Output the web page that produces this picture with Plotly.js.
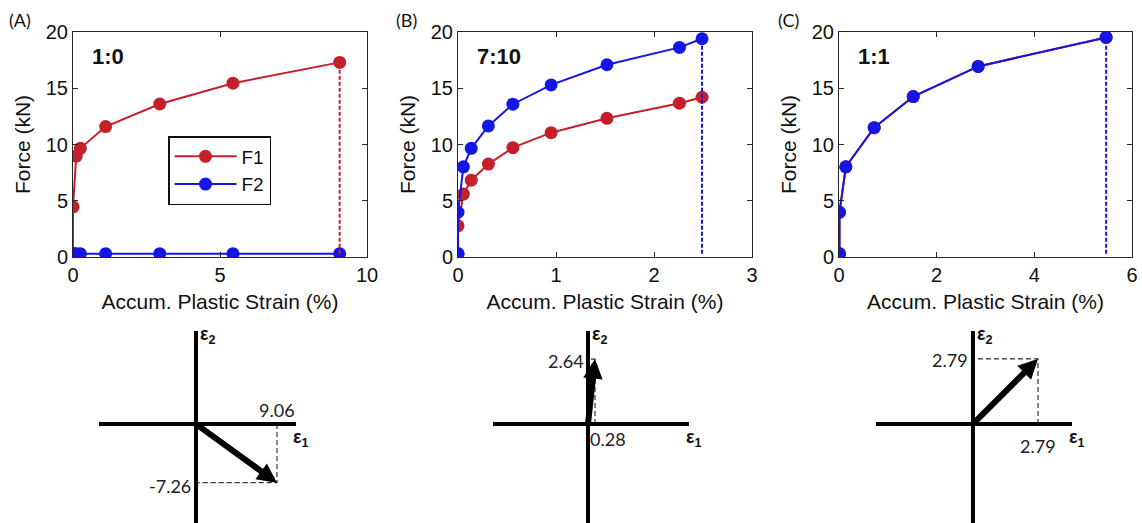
<!DOCTYPE html>
<html>
<head>
<meta charset="utf-8">
<script src="https://cdn.plot.ly/plotly-3.0.1.min.js"></script>
<style>html,body{margin:0;padding:0;background:#fff}#chart{width:1142px;height:523px}</style>
</head>
<body>
<div id="chart"></div>
<script>
// ---- Data ----
const panelLabels = ['(A)', '(B)', '(C)'];
const ratioLabels = ['1:0', '7:10', '1:1'];
const seriesNames = ['F1', 'F2'];

// Panel A (1:0)
const strainA = [0, 0, 0.11, 0.25, 1.11, 2.95, 5.44, 9.07];
const f1A = [0.3, 4.46, 8.97, 9.66, 11.59, 13.6, 15.45, 17.3];
const f2A = [0.3, 0.3, 0.3, 0.3, 0.3, 0.3, 0.3, 0.3];

// Panel B (7:10)
const strainB = [0, 0, 0.055, 0.135, 0.31, 0.56, 0.95, 1.52, 2.26, 2.49];
const f1B = [0.3, 2.76, 5.59, 6.83, 8.26, 9.72, 11.05, 12.33, 13.67, 14.2];
const f2B = [0.3, 3.98, 8.02, 9.66, 11.65, 13.58, 15.3, 17.09, 18.63, 19.4];

// Panel C (1:1)
const strainC = [0.01, 0.01, 0.14, 0.72, 1.52, 2.85, 5.47];
const f1C = [0.3, 3.98, 8.02, 11.5, 14.26, 16.94, 19.52];
const f2C = [0.3, 3.98, 8.02, 11.5, 14.26, 16.94, 19.52];

// Strain vectors (eps1, eps2) shown in the lower diagrams
const eps1 = [9.06, 0.28, 2.79];
const eps2 = [-7.26, 2.64, 2.79];

// x-axis ranges / tick steps
const xMax = [10, 3, 6];
const xStep = [5, 1, 2];

// ---- Styles ----
const RED = '#c4202b';
const BLUE = '#1616e4';
const AX = '#262626';
const FONT = 'Liberation Sans, Arial, sans-serif';
const W = 1142, H = 523;
const px = v => v / W;
const py = v => 1 - v / H;

const panels = [
  {s: strainA, f1: f1A, f2: f2A, dashColor: RED, xd: [73, 367]},
  {s: strainB, f1: f1B, f2: f2B, dashColor: BLUE, xd: [458, 752]},
  {s: strainC, f1: f1C, f2: f2C, dashColor: BLUE, xd: [839, 1132]}
];

const traces = [];
const layout = {
  width: W, height: H,
  margin: {l: 0, r: 0, t: 0, b: 0},
  paper_bgcolor: '#fff', plot_bgcolor: '#fff',
  showlegend: true,
  legend: {
    x: px(168), y: py(136), xanchor: 'left', yanchor: 'top',
    bgcolor: '#fff', bordercolor: '#111', borderwidth: 1.5,
    font: {family: FONT, size: 19, color: '#111'},
    itemwidth: 62, tracegroupgap: 0
  },
  annotations: [],
  shapes: []
};

panels.forEach((p, i) => {
  const n = i + 1;
  const xa = n === 1 ? 'x' : 'x' + n;
  const ya = n === 1 ? 'y' : 'y' + n;
  const last = p.s.length - 1;
  traces.push({
    x: p.s, y: p.f1, xaxis: xa, yaxis: ya, name: seriesNames[0],
    mode: 'lines+markers', line: {color: RED, width: 2},
    marker: {color: RED, size: 13}, showlegend: i === 0, legendgroup: 'f1'
  });
  traces.push({
    x: p.s, y: p.f2, xaxis: xa, yaxis: ya, name: seriesNames[1],
    mode: 'lines+markers', line: {color: BLUE, width: 2},
    marker: {color: BLUE, size: 13}, showlegend: i === 0, legendgroup: 'f2'
  });
  traces.push({
    x: [p.s[last], p.s[last]],
    y: [p.f1[0], Math.max(p.f1[last], p.f2[last])],
    xaxis: xa, yaxis: ya, mode: 'lines', showlegend: false,
    line: {color: p.dashColor, width: 2, dash: '4px,2px'}, hoverinfo: 'skip'
  });

  const axKey = n === 1 ? 'xaxis' : 'xaxis' + n;
  const ayKey = n === 1 ? 'yaxis' : 'yaxis' + n;
  const common = {
    ticks: 'inside', ticklen: 5, tickwidth: 1, tickcolor: AX,
    showline: true, linecolor: AX, linewidth: 1, mirror: 'ticks',
    showgrid: false, zeroline: false, fixedrange: true,
    tickfont: {family: FONT, size: 20, color: '#111'}
  };
  layout[axKey] = Object.assign({}, common, {
    domain: [px(p.xd[0]), px(p.xd[1])], range: [0, xMax[i]],
    tick0: 0, dtick: xStep[i], anchor: ya,
    title: {text: 'Accum. Plastic Strain (%)', font: {family: FONT, size: 21, color: '#111'}, standoff: 9}
  });
  layout[ayKey] = Object.assign({}, common, {
    domain: [py(257), py(32)], range: [0, 20], tick0: 0, dtick: 5, anchor: xa,
    title: {text: 'Force (kN)', font: {family: FONT, size: 21, color: '#111'}, standoff: 9}
  });

  layout.annotations.push({
    xref: xa + ' domain', yref: ya + ' domain', x: 0.058, y: 0.889,
    xanchor: 'left', yanchor: 'middle', showarrow: false,
    text: '<b>' + ratioLabels[i] + '</b>', font: {family: FONT, size: 22, color: '#111'}
  });
  layout.annotations.push({
    xref: 'paper', yref: 'paper', x: px([20, 406, 788][i]), y: py(20),
    xanchor: 'center', yanchor: 'middle', showarrow: false,
    text: panelLabels[i], font: {family: 'Lato, Open Sans, sans-serif', size: 18, color: '#111'}
  });
});

// ---- Lower strain-vector diagrams ----
const diag = [
  {xd: [99, 296], xr: [-10.85, 11.19], yr: [-12.24, 11.5]},
  {xd: [493, 689], xr: [-3.8, 4.04], yr: [-4.02, 3.78]},
  {xd: [876, 1072], xr: [-4.16, 4.25], yr: [-4.25, 3.99]}
];
const NUMFONT = {family: 'Lato, Open Sans, sans-serif', size: 18, color: '#222'};
const EPSFONT = {family: FONT, size: 18, color: '#111'};

diag.forEach((d, i) => {
  const n = i + 4;
  const xa = 'x' + n, ya = 'y' + n;
  layout['xaxis' + n] = {domain: [px(d.xd[0]), px(d.xd[1])], range: d.xr, visible: false, anchor: ya, fixedrange: true};
  layout['yaxis' + n] = {domain: [py(523), py(331)], range: d.yr, visible: false, anchor: xa, fixedrange: true};

  // dashed projection lines
  traces.push({
    x: [eps1[i], eps1[i], 0], y: [0, eps2[i], eps2[i]], xaxis: xa, yaxis: ya,
    mode: 'lines', showlegend: false, hoverinfo: 'skip',
    line: {color: '#333', width: 1.2, dash: '5px,3px'}
  });
  // axes of the diagram
  layout.shapes.push({type: 'line', xref: xa + ' domain', yref: ya, x0: 0, x1: 1, y0: 0, y1: 0, line: {color: '#000', width: 4}});
  layout.shapes.push({type: 'line', xref: xa, yref: ya + ' domain', x0: 0, x1: 0, y0: 0, y1: 1, line: {color: '#000', width: 4}});
  // vector arrow
  layout.annotations.push({
    xref: xa, yref: ya, axref: xa, ayref: ya, x: eps1[i], y: eps2[i], ax: 0, ay: 0,
    text: '', showarrow: true, arrowhead: 2, arrowsize: 0.65, arrowwidth: 6, arrowcolor: '#000', standoff: 0
  });
  // epsilon labels
  layout.annotations.push({
    xref: xa, yref: ya + ' domain', x: 0, y: 1, xanchor: 'left', yanchor: 'top', xshift: 2, yshift: 9,
    showarrow: false, text: '<b>ε<sub>2</sub></b>', font: EPSFONT
  });
  layout.annotations.push({
    xref: xa + ' domain', yref: ya, x: 1, y: 0, xanchor: 'center', yanchor: 'top', xshift: 5, yshift: -1,
    showarrow: false, text: '<b>ε<sub>1</sub></b>', font: EPSFONT
  });
});

// value labels of the diagrams
// A
layout.annotations.push({xref: 'x4', yref: 'y4', x: eps1[0], y: 0, xanchor: 'center', yanchor: 'bottom', yshift: 1,
  showarrow: false, text: eps1[0].toFixed(2), font: NUMFONT});
layout.annotations.push({xref: 'x4', yref: 'y4', x: 0, y: eps2[0], xanchor: 'right', yanchor: 'middle', xshift: -3, yshift: -3,
  showarrow: false, text: eps2[0].toFixed(2), font: NUMFONT});
// B
layout.annotations.push({xref: 'x5', yref: 'y5', x: 0, y: 0, xanchor: 'left', yanchor: 'top', xshift: 0, yshift: -2,
  showarrow: false, text: eps1[1].toFixed(2), font: NUMFONT});
layout.annotations.push({xref: 'x5', yref: 'y5', x: 0, y: eps2[1], xanchor: 'right', yanchor: 'middle', xshift: -2, yshift: -2,
  showarrow: false, text: eps2[1].toFixed(2), font: NUMFONT});
// C
layout.annotations.push({xref: 'x6', yref: 'y6', x: eps1[2], y: 0, xanchor: 'center', yanchor: 'top', yshift: -9,
  showarrow: false, text: eps1[2].toFixed(2), font: NUMFONT});
layout.annotations.push({xref: 'x6', yref: 'y6', x: 0, y: eps2[2], xanchor: 'right', yanchor: 'middle', xshift: -3, yshift: -1,
  showarrow: false, text: eps2[2].toFixed(2), font: NUMFONT});

Plotly.newPlot('chart', traces, layout, {displayModeBar: false, staticPlot: true});
</script>
</body>
</html>
